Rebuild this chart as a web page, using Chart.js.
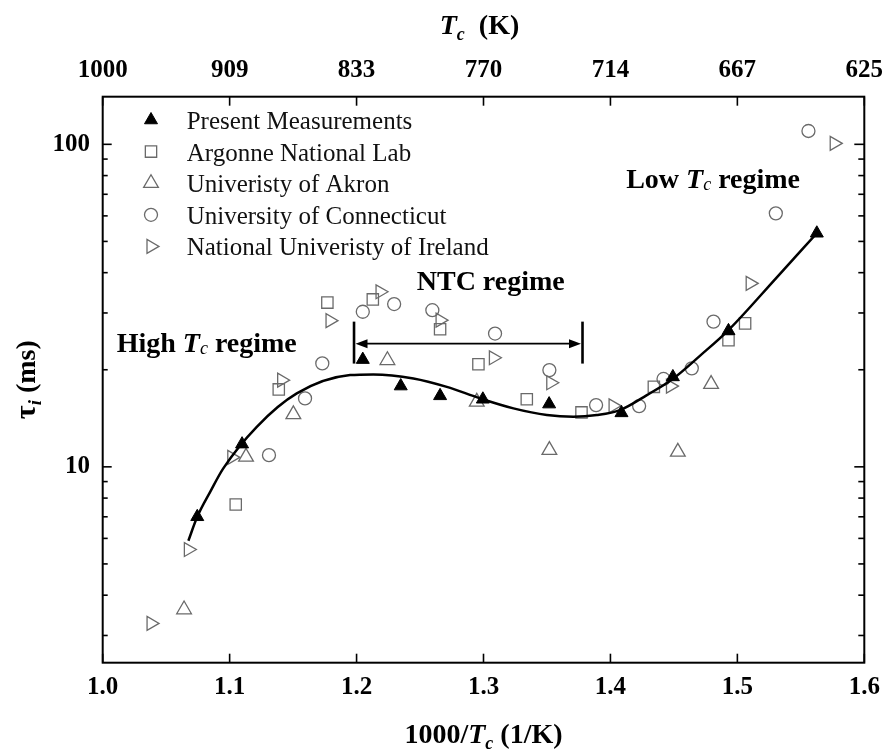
<!DOCTYPE html>
<html>
<head>
<meta charset="utf-8">
<script src="https://cdn.jsdelivr.net/npm/chart.js@4.4.1/dist/chart.umd.min.js"></script>
<style>
  html, body { margin: 0; padding: 0; background: #fff; }
  #wrap { width: 889px; height: 756px; }
</style>
</head>
<body>
<div id="wrap"><canvas id="c" width="889" height="756"></canvas></div>
<script>
// ---- Ignition delay data: x = 1000/Tc (1/K), y = tau_i (ms) ----
const presentX  = [1.0745, 1.1098, 1.2049, 1.2348, 1.2658, 1.2995, 1.3517, 1.4087, 1.4492, 1.4930, 1.5626];
const presentY  = [7.0, 11.76, 21.5, 17.8, 16.6, 16.2, 15.65, 14.7, 19.0, 26.4, 53.0];

const argonneX  = [1.1048, 1.1387, 1.1770, 1.2128, 1.2658, 1.2960, 1.3341, 1.3772, 1.4342, 1.4930, 1.5061];
const argonneY  = [7.64, 17.38, 32.3, 33.05, 26.7, 20.8, 16.2, 14.75, 17.7, 24.7, 27.85];

const akronX    = [1.0641, 1.1129, 1.1502, 1.2243, 1.2947, 1.3519, 1.4531, 1.4793];
const akronY    = [3.61, 10.74, 14.54, 21.4, 15.9, 11.27, 11.13, 18.05];

const uconnX    = [1.1310, 1.1594, 1.1730, 1.2049, 1.2296, 1.2597, 1.3091, 1.3519, 1.3887, 1.4226, 1.4418, 1.4641, 1.4812, 1.5303, 1.5560];
const uconnY    = [10.87, 16.3, 20.93, 30.26, 31.97, 30.6, 25.9, 19.95, 15.54, 15.43, 18.73, 20.2, 28.2, 61.1, 110];

const irelandX  = [1.0381, 1.0675, 1.1017, 1.1410, 1.1791, 1.2185, 1.2658, 1.3078, 1.3530, 1.4021, 1.4473, 1.5101, 1.5763];
const irelandY  = [3.27, 5.54, 10.7, 18.57, 28.4, 34.9, 28.5, 21.78, 18.22, 15.46, 17.8, 37.06, 100.7];

// trend curve through the present measurements
const fitX = [1.0675, 1.0745, 1.0850, 1.0950, 1.1214, 1.1529, 1.1949, 1.2132, 1.2448, 1.2711, 1.2973,
              1.3236, 1.3499, 1.3708, 1.3893, 1.4076, 1.4287, 1.4496, 1.4707, 1.4930, 1.5311, 1.5626];
const fitY = [5.9, 7.0, 8.41, 9.89, 13.31, 16.89, 19.25, 19.35, 18.8, 17.7, 16.3,
              15.18, 14.47, 14.29, 14.47, 15.0, 16.69, 18.8, 22.13, 26.55, 38.7, 53.0];

const seriesNames = [
  'Present Measurements',
  'Argonne National Lab',
  'Univeristy of Akron',
  'University of Connecticut',
  'National Univeristy of Ireland'
];

// tick values and labels
const xTickValues   = [1.0, 1.1, 1.2, 1.3, 1.4, 1.5, 1.6];
const topTickLabels = ['1000', '909', '833', '770', '714', '667', '625'];
const yMajorTicks   = [10, 100];
const yMinorTicks   = [3, 4, 5, 6, 7, 8, 9, 20, 30, 40, 50, 60, 70, 80, 90];

// NTC regime bracket (x extent and y levels in data units)
const ntcBracket = { x0: 1.198, x1: 1.378, y: 24.1, yTop: 28.2, yBottom: 20.9 };

const SERIF = "'Liberation Serif', 'Times New Roman', serif";
const F = (style, size) => `${style} ${size}px ${SERIF}`;
const OPEN = '#6a6a6a';

const toPts = (xs, ys) => xs.map((x, i) => ({ x, y: ys[i] }));

const markerSets = [
  { data: toPts(presentX, presentY), pointStyle: 'triangle', pointRadius: 7.5, pointRotation: 0,
    pointBackgroundColor: '#000', pointBorderColor: '#000', pointBorderWidth: 1, order: 0 },
  { data: toPts(argonneX, argonneY), pointStyle: 'rect', pointRadius: 8, pointRotation: 0,
    pointBackgroundColor: 'rgba(0,0,0,0)', pointBorderColor: OPEN, pointBorderWidth: 1.3, order: 2 },
  { data: toPts(akronX, akronY), pointStyle: 'triangle', pointRadius: 8.5, pointRotation: 0,
    pointBackgroundColor: 'rgba(0,0,0,0)', pointBorderColor: OPEN, pointBorderWidth: 1.3, order: 3 },
  { data: toPts(uconnX, uconnY), pointStyle: 'circle', pointRadius: 6.5, pointRotation: 0,
    pointBackgroundColor: 'rgba(0,0,0,0)', pointBorderColor: OPEN, pointBorderWidth: 1.3, order: 4 },
  { data: toPts(irelandX, irelandY), pointStyle: 'triangle', pointRadius: 8, pointRotation: 90,
    pointBackgroundColor: 'rgba(0,0,0,0)', pointBorderColor: OPEN, pointBorderWidth: 1.3, order: 5 }
].map((d, i) => Object.assign({ label: seriesNames[i], showLine: false }, d));

const fitSet = {
  label: 'fit', data: toPts(fitX, fitY), showLine: true, pointRadius: 0,
  borderColor: '#000', borderWidth: 2.5, cubicInterpolationMode: 'monotone', order: 1
};

// Draws a run of differently styled text pieces on one baseline
function richText(ctx, parts, x, y, align) {
  let w = 0;
  parts.forEach(p => { ctx.font = p.font; w += ctx.measureText(p.t).width + (p.dx || 0); });
  let cx = align === 'center' ? x - w / 2 : x;
  ctx.textAlign = 'left';
  ctx.textBaseline = 'alphabetic';
  parts.forEach(p => {
    ctx.font = p.font;
    cx += (p.dx || 0);
    ctx.fillText(p.t, cx, y + (p.dy || 0));
    cx += ctx.measureText(p.t).width;
  });
}

function line(ctx, x0, y0, x1, y1) {
  ctx.beginPath(); ctx.moveTo(x0, y0); ctx.lineTo(x1, y1); ctx.stroke();
}

function marker(ctx, ds, x, y) {
  ctx.save();
  ctx.fillStyle = ds.pointBackgroundColor;
  ctx.strokeStyle = ds.pointBorderColor;
  ctx.lineWidth = ds.pointBorderWidth;
  Chart.helpers.drawPoint(ctx, {
    pointStyle: ds.pointStyle, rotation: ds.pointRotation,
    radius: ds.pointRadius, borderWidth: ds.pointBorderWidth
  }, x, y);
  ctx.restore();
}

// Frame, inward tick marks, legend, annotations and axis titles
const decorations = {
  id: 'decorations',
  afterDatasetsDraw(chart) {
    const { ctx, chartArea: a, scales } = chart;
    const sx = scales.x, sy = scales.y;
    ctx.save();
    ctx.strokeStyle = '#000';

    // inward ticks
    ctx.lineWidth = 1.6;
    xTickValues.forEach(v => {
      const px = sx.getPixelForValue(v);
      line(ctx, px, a.bottom, px, a.bottom - 9);
      line(ctx, px, a.top, px, a.top + 9);
    });
    yMajorTicks.forEach(v => {
      const py = sy.getPixelForValue(v);
      line(ctx, a.left, py, a.left + 9, py);
      line(ctx, a.right, py, a.right - 10, py);
    });
    yMinorTicks.forEach(v => {
      const py = sy.getPixelForValue(v);
      line(ctx, a.left, py, a.left + 5, py);
      line(ctx, a.right, py, a.right - 6, py);
    });

    // frame
    ctx.lineWidth = 2;
    ctx.strokeRect(a.left, a.top, a.right - a.left, a.bottom - a.top);

    // legend
    markerSets.forEach((ds, i) => {
      const my = a.top + 23.3 + i * 31.6;
      marker(ctx, ds, a.left + 48.3, my);
      ctx.fillStyle = '#111';
      ctx.font = F('normal', 25);
      ctx.textAlign = 'left';
      ctx.textBaseline = 'alphabetic';
      ctx.fillText(ds.label, a.left + 84, my + 9);
    });

    // NTC bracket
    const bx0 = sx.getPixelForValue(ntcBracket.x0);
    const bx1 = sx.getPixelForValue(ntcBracket.x1);
    const by = sy.getPixelForValue(ntcBracket.y);
    const byT = sy.getPixelForValue(ntcBracket.yTop);
    const byB = sy.getPixelForValue(ntcBracket.yBottom);
    ctx.lineWidth = 2.6;
    line(ctx, bx0, byT, bx0, byB);
    line(ctx, bx1, byT, bx1, byB);
    ctx.lineWidth = 1.6;
    line(ctx, bx0 + 8, by, bx1 - 8, by);
    ctx.fillStyle = '#000';
    [[bx0 + 1.5, 1], [bx1 - 1.5, -1]].forEach(([tip, dir]) => {
      ctx.beginPath();
      ctx.moveTo(tip, by);
      ctx.lineTo(tip + dir * 12, by - 4.5);
      ctx.lineTo(tip + dir * 12, by + 4.5);
      ctx.closePath();
      ctx.fill();
    });

    // regime labels
    ctx.fillStyle = '#000';
    const regime = (x, y, lead, withTc) => {
      const parts = [{ t: lead, font: F('bold', 28) }];
      if (withTc) {
        parts.push({ t: 'T', font: F('italic bold', 28) });
        parts.push({ t: 'c', font: F('italic', 18), dy: 2 });
      }
      parts.push({ t: ' regime', font: F('bold', 28) });
      richText(ctx, parts, sx.getPixelForValue(x), sy.getPixelForValue(y), 'left');
    };
    regime(1.0110, 22.73, 'High ', true);
    regime(1.2474, 35.3, 'NTC', false);
    regime(1.4124, 73.05, 'Low ', true);
    ctx.restore();
  },
  afterDraw(chart) {
    const { ctx, chartArea: a } = chart;
    const cx = (a.left + a.right) / 2;
    ctx.save();
    ctx.fillStyle = '#000';
    // top axis title
    richText(ctx, [
      { t: 'T', font: F('italic bold', 28) },
      { t: 'c', font: F('italic bold', 18), dy: 6 },
      { t: '  (K)', font: F('bold', 28) }
    ], cx - 4, 34, 'center');
    // bottom axis title
    richText(ctx, [
      { t: '1000/', font: F('bold', 28) },
      { t: 'T', font: F('italic bold', 28) },
      { t: 'c', font: F('italic bold', 18), dy: 6 },
      { t: ' (1/K)', font: F('bold', 28) }
    ], cx, 743, 'center');
    // left axis title, rotated
    ctx.translate(35, (a.top + a.bottom) / 2);
    ctx.rotate(-Math.PI / 2);
    richText(ctx, [
      { t: '\u03C4', font: F('bold', 30) },
      { t: 'i', font: F('italic bold', 19), dy: 6 },
      { t: ' (ms)', font: F('bold', 28) }
    ], 0, 0, 'center');
    ctx.restore();
  }
};

const tickFont = { family: SERIF, size: 25, weight: 'bold' };
// keep edge tick labels from shrinking the plot area
const noEdgePad = s => { s.paddingLeft = 0; s.paddingRight = 0; s.paddingTop = 0; s.paddingBottom = 0; };

new Chart(document.getElementById('c'), {
  type: 'scatter',
  data: { datasets: [...markerSets, fitSet] },
  options: {
    responsive: false,
    devicePixelRatio: 1,
    animation: false,
    layout: { padding: { left: 0, top: 0, right: 24.7, bottom: 0 } },
    plugins: { legend: { display: false }, tooltip: { enabled: false } },
    scales: {
      x: {
        type: 'linear', position: 'bottom', min: 1.0, max: 1.6,
        grid: { display: false, drawTicks: false }, border: { display: false },
        ticks: { stepSize: 0.1, padding: 10, color: '#000', font: tickFont, autoSkip: false,
                 callback: v => v.toFixed(1) },
        afterFit: s => { s.height = 93.3; noEdgePad(s); }
      },
      x2: {
        type: 'linear', position: 'top', min: 1.0, max: 1.6,
        grid: { display: false, drawTicks: false }, border: { display: false },
        ticks: { stepSize: 0.1, padding: 11, color: '#000', font: tickFont, autoSkip: false,
                 callback: v => topTickLabels[Math.round((v - 1) * 10)] },
        afterFit: s => { s.height = 96.7; noEdgePad(s); }
      },
      y: {
        type: 'logarithmic', position: 'left', min: 2.47, max: 140.5,
        grid: { display: false, drawTicks: false }, border: { display: false },
        ticks: { padding: 12.7, color: '#000', font: tickFont, autoSkip: false,
                 callback: v => (yMajorTicks.includes(v) ? String(v) : '') },
        afterFit: s => { s.width = 102.7; noEdgePad(s); }
      }
    }
  },
  plugins: [decorations]
});
</script>
</body>
</html>
